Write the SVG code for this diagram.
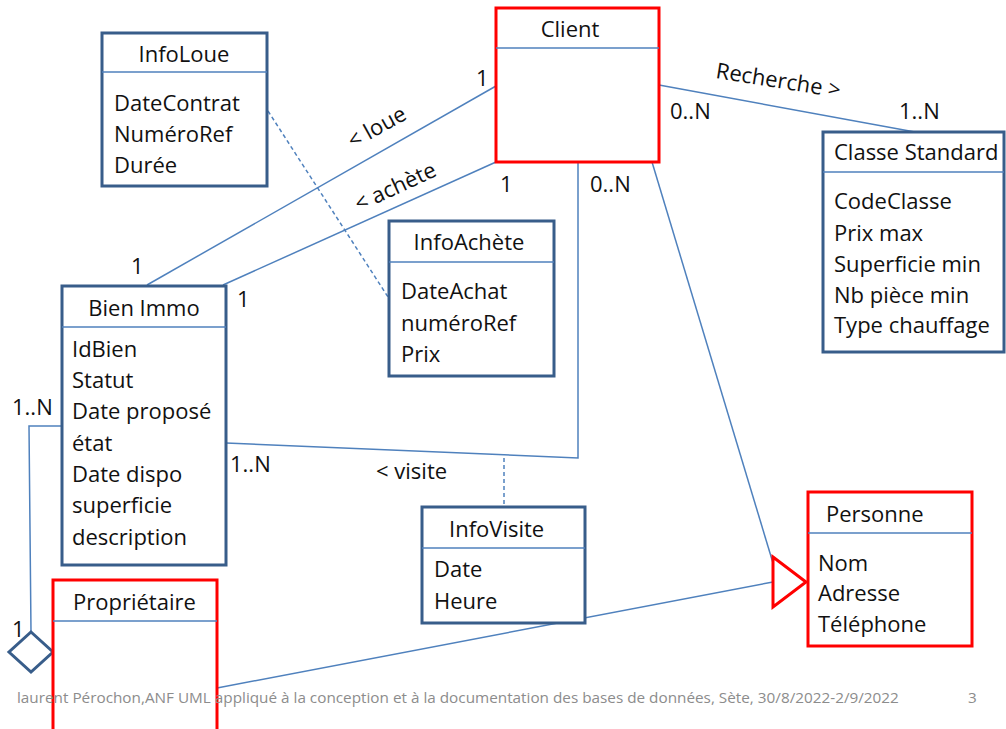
<svg xmlns="http://www.w3.org/2000/svg" width="1006" height="729" viewBox="0 0 1006 729">
  <style>
    text { font-family: "Open Sans", "Liberation Sans", sans-serif; font-size: 22px; fill: #111; }
    .box { fill: #fff; stroke: #385d8a; stroke-width: 3; }
    .red { fill: #fff; stroke: #ff0000; stroke-width: 3; }
    .sep { stroke: #4f81bd; stroke-width: 1.5; }
    .conn { fill: none; stroke: #4f81bd; stroke-width: 1.5; }
    .dash { fill: none; stroke: #4f81bd; stroke-width: 1.5; stroke-dasharray: 4 3; }
    .foot { font-size: 15.3px; fill: #8c8c8c; }
    .mid { text-anchor: middle; }
  </style>
  <rect width="1006" height="729" fill="#fff"/>

  <!-- associations, links and the inheritance / aggregation lines -->
  <g id="connectors">
    <line class="conn" x1="496" y1="86" x2="147" y2="285"/>
    <line class="conn" x1="496" y1="162" x2="223" y2="285"/>
    <line class="conn" x1="659" y1="85" x2="915" y2="132"/>
    <polyline class="conn" points="226,443 578,458 578,162"/>
    <line class="conn" x1="652" y1="162" x2="773" y2="563"/>
    <line class="conn" x1="217" y1="688" x2="773" y2="582"/>
    <polyline class="conn" points="62,426 29,426 31,632"/>
    <line class="dash" x1="268" y1="111" x2="388" y2="297"/>
    <line class="dash" x1="504" y1="458" x2="504" y2="507"/>
    <!-- generalisation triangle pointing at Personne -->
    <polygon points="773,557 806,582 773,607" fill="#fff" stroke="#ff0000" stroke-width="3"/>
    <!-- aggregation diamond at Propriétaire -->
    <polygon points="31,632 53,652 31,672 9,652" fill="#fff" stroke="#385d8a" stroke-width="3"/>
  </g>

  <!-- multiplicities and role names -->
  <g id="labels">
    <text x="476" y="86">1</text>
    <text x="131" y="274">1</text>
    <text x="500" y="192">1</text>
    <text x="237" y="307">1</text>
    <text x="670" y="119">0..N</text>
    <text x="899" y="119">1..N</text>
    <text x="590" y="192">0..N</text>
    <text x="12" y="415">1..N</text>
    <text x="12" y="637">1</text>
    <text x="230" y="472">1..N</text>
    <text x="376" y="479">&lt; visite</text>
    <text transform="translate(353,149) rotate(-29)">&lt; loue</text>
    <text transform="translate(359,212) rotate(-25)">&lt; achète</text>
    <text transform="translate(715,78) rotate(9)">Recherche &gt;</text>
  </g>

  <g id="InfoLoue">
    <rect class="box" x="102" y="33" width="165" height="153"/>
    <line class="sep" x1="102" y1="72" x2="267" y2="72"/>
    <text class="mid" x="184" y="62">InfoLoue</text>
    <text x="114" y="111">DateContrat</text>
    <text x="114" y="142">NuméroRef</text>
    <text x="114" y="173">Durée</text>
  </g>

  <g id="Client">
    <rect class="red" x="496" y="8" width="163" height="154"/>
    <line class="sep" x1="496" y1="48" x2="659" y2="48"/>
    <text class="mid" x="570" y="37">Client</text>
  </g>

  <g id="ClasseStandard">
    <rect class="box" x="823" y="132" width="181" height="220"/>
    <line class="sep" x1="823" y1="172" x2="1004" y2="172"/>
    <text x="834" y="160">Classe Standard</text>
    <text x="834" y="209">CodeClasse</text>
    <text x="834" y="241">Prix max</text>
    <text x="834" y="272">Superficie min</text>
    <text x="834" y="303">Nb pièce min</text>
    <text x="834" y="333">Type chauffage</text>
  </g>

  <g id="InfoAchete">
    <rect class="box" x="389" y="221" width="165" height="155"/>
    <line class="sep" x1="389" y1="262" x2="554" y2="262"/>
    <text class="mid" x="469" y="250">InfoAchète</text>
    <text x="401" y="299">DateAchat</text>
    <text x="401" y="331">numéroRef</text>
    <text x="401" y="362">Prix</text>
  </g>

  <g id="BienImmo">
    <rect class="box" x="62" y="286" width="164" height="279"/>
    <line class="sep" x1="62" y1="327" x2="226" y2="327"/>
    <text class="mid" x="144" y="316">Bien Immo</text>
    <text x="72" y="357">IdBien</text>
    <text x="72" y="388">Statut</text>
    <text x="72" y="419">Date proposé</text>
    <text x="72" y="451">état</text>
    <text x="72" y="482">Date dispo</text>
    <text x="72" y="513">superficie</text>
    <text x="72" y="545">description</text>
  </g>

  <g id="InfoVisite">
    <rect class="box" x="422" y="507" width="163" height="116"/>
    <line class="sep" x1="422" y1="548" x2="585" y2="548"/>
    <text x="449" y="537">InfoVisite</text>
    <text x="434" y="577">Date</text>
    <text x="434" y="609">Heure</text>
  </g>

  <g id="Personne">
    <rect class="red" x="808" y="492" width="164" height="154"/>
    <line class="sep" x1="808" y1="533" x2="972" y2="533"/>
    <text x="826" y="522">Personne</text>
    <text x="818" y="571">Nom</text>
    <text x="818" y="601">Adresse</text>
    <text x="818" y="632">Téléphone</text>
  </g>

  <g id="Proprietaire">
    <rect class="red" x="53" y="580" width="164" height="160"/>
    <line class="sep" x1="53" y1="621" x2="217" y2="621"/>
    <text x="73" y="610">Propriétaire</text>
  </g>

  <g id="footer">
    <text class="foot" x="17" y="703">laurent Pérochon,ANF UML appliqué à la conception et à la documentation des bases de données, Sète, 30/8/2022-2/9/2022</text>
    <text class="foot" x="968" y="703">3</text>
  </g>
</svg>
